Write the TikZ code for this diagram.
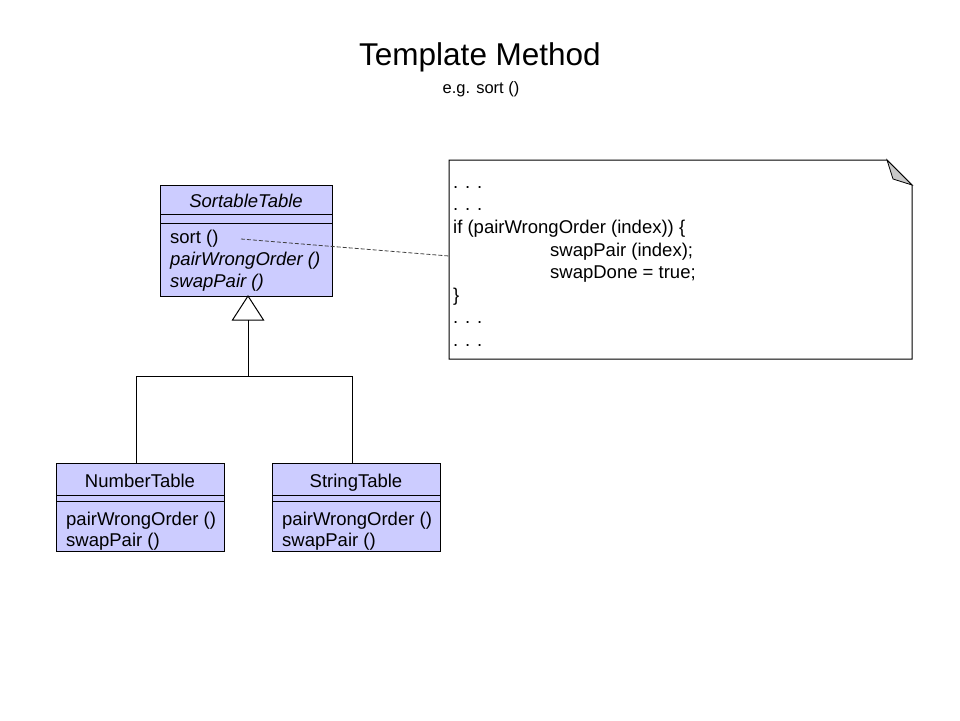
\documentclass[tikz,border=0pt]{standalone}
\usepackage{fontspec}
\setmainfont{Liberation Sans}
\usetikzlibrary{calc}
\definecolor{umlfill}{RGB}{204,204,255}
\definecolor{foldgray}{RGB}{200,200,200}
\begin{document}
\begin{tikzpicture}[x=1pt,y=-1pt,
  cls/.style={draw=black,fill=umlfill,line width=1pt,rectangle,anchor=north west,inner sep=0pt,outer sep=0pt},
  txt/.style={anchor=base west,inner sep=0pt,font=\fontsize{18.5}{20}\selectfont},
  ctxt/.style={anchor=base,inner sep=0pt,font=\fontsize{18.5}{20}\selectfont},
  conn/.style={line width=1pt,draw=black},
  notedash/.style={line width=0.8pt,draw=black!75,dash pattern=on 4pt off 2pt}]
\useasboundingbox (0,0) rectangle (960,720);
% title
\node[anchor=base,inner sep=0pt,font=\fontsize{31.5}{34}\selectfont] (title) at (480,65) {Template Method};
\node[anchor=base,inner sep=0pt,font=\fontsize{16.5}{18}\selectfont] (subtitle) at (481,93) {e.g. sort ()};
% SortableTable
\node[cls,minimum width=172pt,minimum height=111pt] (st) at (160,185) {};
\draw[conn] ([yshift=-29pt]st.north west) -- ([yshift=-29pt]st.north east);
\draw[conn] ([yshift=-38pt]st.north west) -- ([yshift=-38pt]st.north east);
\node[ctxt] (stname) at (246,207) {\itshape SortableTable};
\node[txt] (stm1) at (170,243) {sort ()};
\node[txt] (stm2) at (170,265) {\itshape pairWrongOrder ()};
\node[txt] (stm3) at (170,287) {\itshape swapPair ()};
% NumberTable
\node[cls,minimum width=168pt,minimum height=88pt] (nt) at (56,463) {};
\draw[conn] ([yshift=-32pt]nt.north west) -- ([yshift=-32pt]nt.north east);
\draw[conn] ([yshift=-38pt]nt.north west) -- ([yshift=-38pt]nt.north east);
\node[ctxt] (ntname) at (140,487) {NumberTable};
\node[txt] (ntm1) at (66,525) {pairWrongOrder ()};
\node[txt] (ntm2) at (66,546) {swapPair ()};
% StringTable
\node[cls,minimum width=168pt,minimum height=88pt] (stt) at (272,463) {};
\draw[conn] ([yshift=-32pt]stt.north west) -- ([yshift=-32pt]stt.north east);
\draw[conn] ([yshift=-38pt]stt.north west) -- ([yshift=-38pt]stt.north east);
\node[ctxt] (sttname) at (356,487) {StringTable};
\node[txt] (sttm1) at (282,525) {pairWrongOrder ()};
\node[txt] (sttm2) at (282,546) {swapPair ()};
% inheritance
\coordinate (apex) at (248,296);
\coordinate (tribase) at (248,320);
\coordinate (junction) at (248,376);
\draw[conn] (apex) -- ++(-15.5,24) -- ++(31,0) -- cycle;
\draw[conn] (tribase) -- (junction);
\draw[conn] ([xshift=-4pt]nt.north) |- (junction);
\draw[conn] ([xshift=-4pt]stt.north) |- (junction);
% note
\node[anchor=north west,inner sep=0pt,outer sep=0pt,minimum width=463pt,minimum height=199pt] (note) at (449,160) {};
\draw[conn,fill=white] (note.north west) -- (887,160) -- (912,185) -- (note.south east) -- (note.south west) -- cycle;
\draw[line width=0.8pt,fill=foldgray] (887,160) -- (893,179) -- (912,185) -- cycle;
\node[txt] (n1) at (453,188) {. . .};
\node[txt] (n2) at (453,210.5) {. . .};
\node[txt] (n3) at (453,233) {if (pairWrongOrder (index)) \{};
\node[txt] (n4) at (550,256) {swapPair (index);};
\node[txt] (n5) at (550,278.5) {swapDone = true;};
\node[txt] (n6) at (453,301) {\}};
\node[txt] (n7) at (453,323.5) {. . .};
\node[txt] (n8) at (453,346) {. . .};
% note link
\coordinate (sortend) at (241,239);
\draw[notedash] (sortend) -- ([yshift=3.5pt]note.west);
\end{tikzpicture}
\end{document}
